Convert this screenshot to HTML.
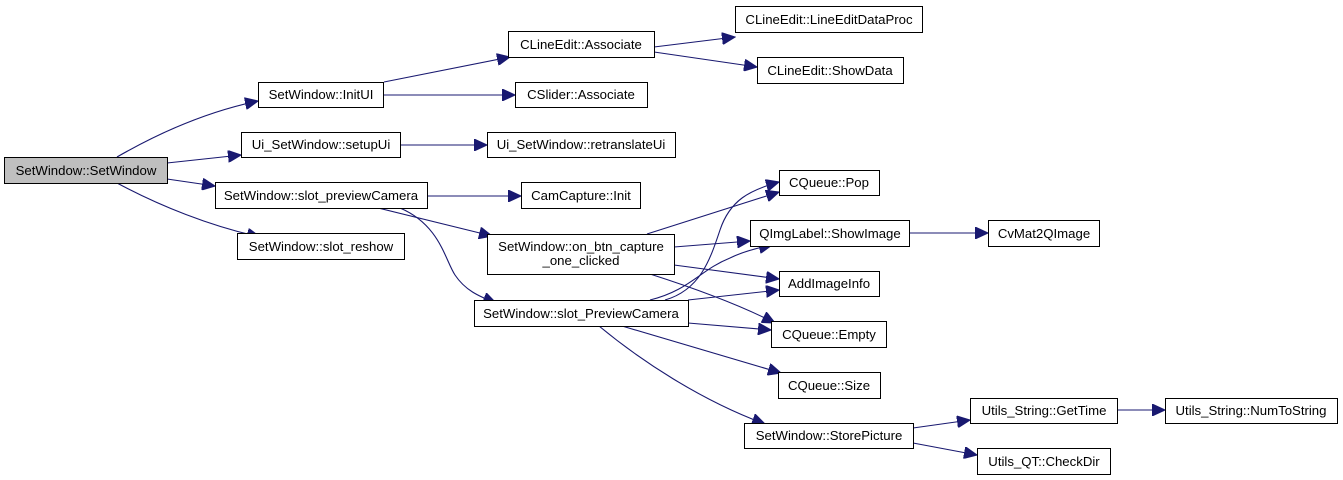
<!DOCTYPE html>
<html><head><meta charset="utf-8"><style>
html,body{margin:0;padding:0;background:#fff;}
svg{display:block;}
text{font-family:"Liberation Sans",Arial,sans-serif;font-size:13.2px;fill:#000;}
rect{fill:#fff;stroke:#000;stroke-width:1;}
path{fill:none;stroke:#191970;stroke-width:1.1;}
</style></head><body>
<svg width="1343" height="480" viewBox="0 0 1343 480" xmlns="http://www.w3.org/2000/svg">
<defs>
<marker id="a" markerUnits="userSpaceOnUse" markerWidth="14" markerHeight="12" refX="13" refY="6" orient="auto">
<path d="M0,0 L13,6 L0,12 Z" style="fill:#191970;stroke:#191970"/>
</marker>
</defs>
<g marker-end="url(#a)">
<path d="M117,157 C150,138 200,113 258,101"/>
<path d="M167,163 L241,155"/>
<path d="M167,179 L215,186"/>
<path d="M117,183 C160,206 210,226 260,237"/>
<path d="M384,82 L510,57"/>
<path d="M383,95 L515,95"/>
<path d="M400,145 L487,145"/>
<path d="M427,196 L521,196"/>
<path d="M378,208 L492,236"/>
<path d="M400,208 C440,225 445,260 455,275 C465,290 478,296 496,303"/>
<path d="M654,47 L735,37"/>
<path d="M654,52 L757,67"/>
<path d="M647,234 L779,192"/>
<path d="M674,247 L750,241"/>
<path d="M674,265 L779,279"/>
<path d="M650,274 C700,290 740,305 775,323"/>
<path d="M665,300 C700,290 710,260 720,230 C730,200 750,190 779,182"/>
<path d="M650,300 C690,290 700,270 730,258 C740,253 752,249 772,245"/>
<path d="M688,300 L779,290"/>
<path d="M688,323 L771,330"/>
<path d="M622,326 L781,373"/>
<path d="M599,326 C640,360 700,400 765,424"/>
<path d="M909,233 L988,233"/>
<path d="M913,428 L970,420"/>
<path d="M913,443 L977,455"/>
<path d="M1116,410 L1165,410"/>
</g>
<rect x="4.5" y="157.5" width="163" height="26" style="fill:#bfbfbf"/><text x="86" y="175" text-anchor="middle">SetWindow::SetWindow</text>
<rect x="258.5" y="82.5" width="125" height="25"/><text x="321" y="99" text-anchor="middle">SetWindow::InitUI</text>
<rect x="241.5" y="132.5" width="159" height="25"/><text x="321" y="149" text-anchor="middle">Ui_SetWindow::setupUi</text>
<rect x="215.5" y="182.5" width="212" height="26"/><text x="321" y="200" text-anchor="middle">SetWindow::slot_previewCamera</text>
<rect x="237.5" y="233.5" width="167" height="26"/><text x="321" y="251" text-anchor="middle">SetWindow::slot_reshow</text>
<rect x="508.5" y="31.5" width="146" height="26"/><text x="581" y="49" text-anchor="middle">CLineEdit::Associate</text>
<rect x="515.5" y="82.5" width="132" height="25"/><text x="581" y="99" text-anchor="middle">CSlider::Associate</text>
<rect x="487.5" y="132.5" width="188" height="25"/><text x="581" y="149" text-anchor="middle">Ui_SetWindow::retranslateUi</text>
<rect x="521.5" y="182.5" width="119" height="26"/><text x="581" y="200" text-anchor="middle">CamCapture::Init</text>
<rect x="487.5" y="234.5" width="187" height="40"/><text x="581" y="251" text-anchor="middle">SetWindow::on_btn_capture</text><text x="581" y="265" text-anchor="middle">_one_clicked</text>
<rect x="474.5" y="300.5" width="214" height="26"/><text x="581" y="318" text-anchor="middle">SetWindow::slot_PreviewCamera</text>
<rect x="735.5" y="6.5" width="187" height="26"/><text x="829" y="24" text-anchor="middle">CLineEdit::LineEditDataProc</text>
<rect x="757.5" y="57.5" width="146" height="26"/><text x="830" y="75" text-anchor="middle">CLineEdit::ShowData</text>
<rect x="779.5" y="170.5" width="100" height="25"/><text x="829" y="187" text-anchor="middle">CQueue::Pop</text>
<rect x="750.5" y="220.5" width="159" height="26"/><text x="830" y="238" text-anchor="middle">QImgLabel::ShowImage</text>
<rect x="779.5" y="271.5" width="100" height="25"/><text x="829" y="288" text-anchor="middle">AddImageInfo</text>
<rect x="771.5" y="321.5" width="115" height="26"/><text x="829" y="339" text-anchor="middle">CQueue::Empty</text>
<rect x="778.5" y="372.5" width="102" height="26"/><text x="829" y="390" text-anchor="middle">CQueue::Size</text>
<rect x="744.5" y="423.5" width="169" height="25"/><text x="829" y="440" text-anchor="middle">SetWindow::StorePicture</text>
<rect x="988.5" y="220.5" width="111" height="26"/><text x="1044" y="238" text-anchor="middle">CvMat2QImage</text>
<rect x="970.5" y="398.5" width="147" height="25"/><text x="1044" y="415" text-anchor="middle">Utils_String::GetTime</text>
<rect x="1165.5" y="398.5" width="172" height="25"/><text x="1251" y="415" text-anchor="middle">Utils_String::NumToString</text>
<rect x="977.5" y="448.5" width="133" height="26"/><text x="1044" y="466" text-anchor="middle">Utils_QT::CheckDir</text>
</svg>
</body></html>
